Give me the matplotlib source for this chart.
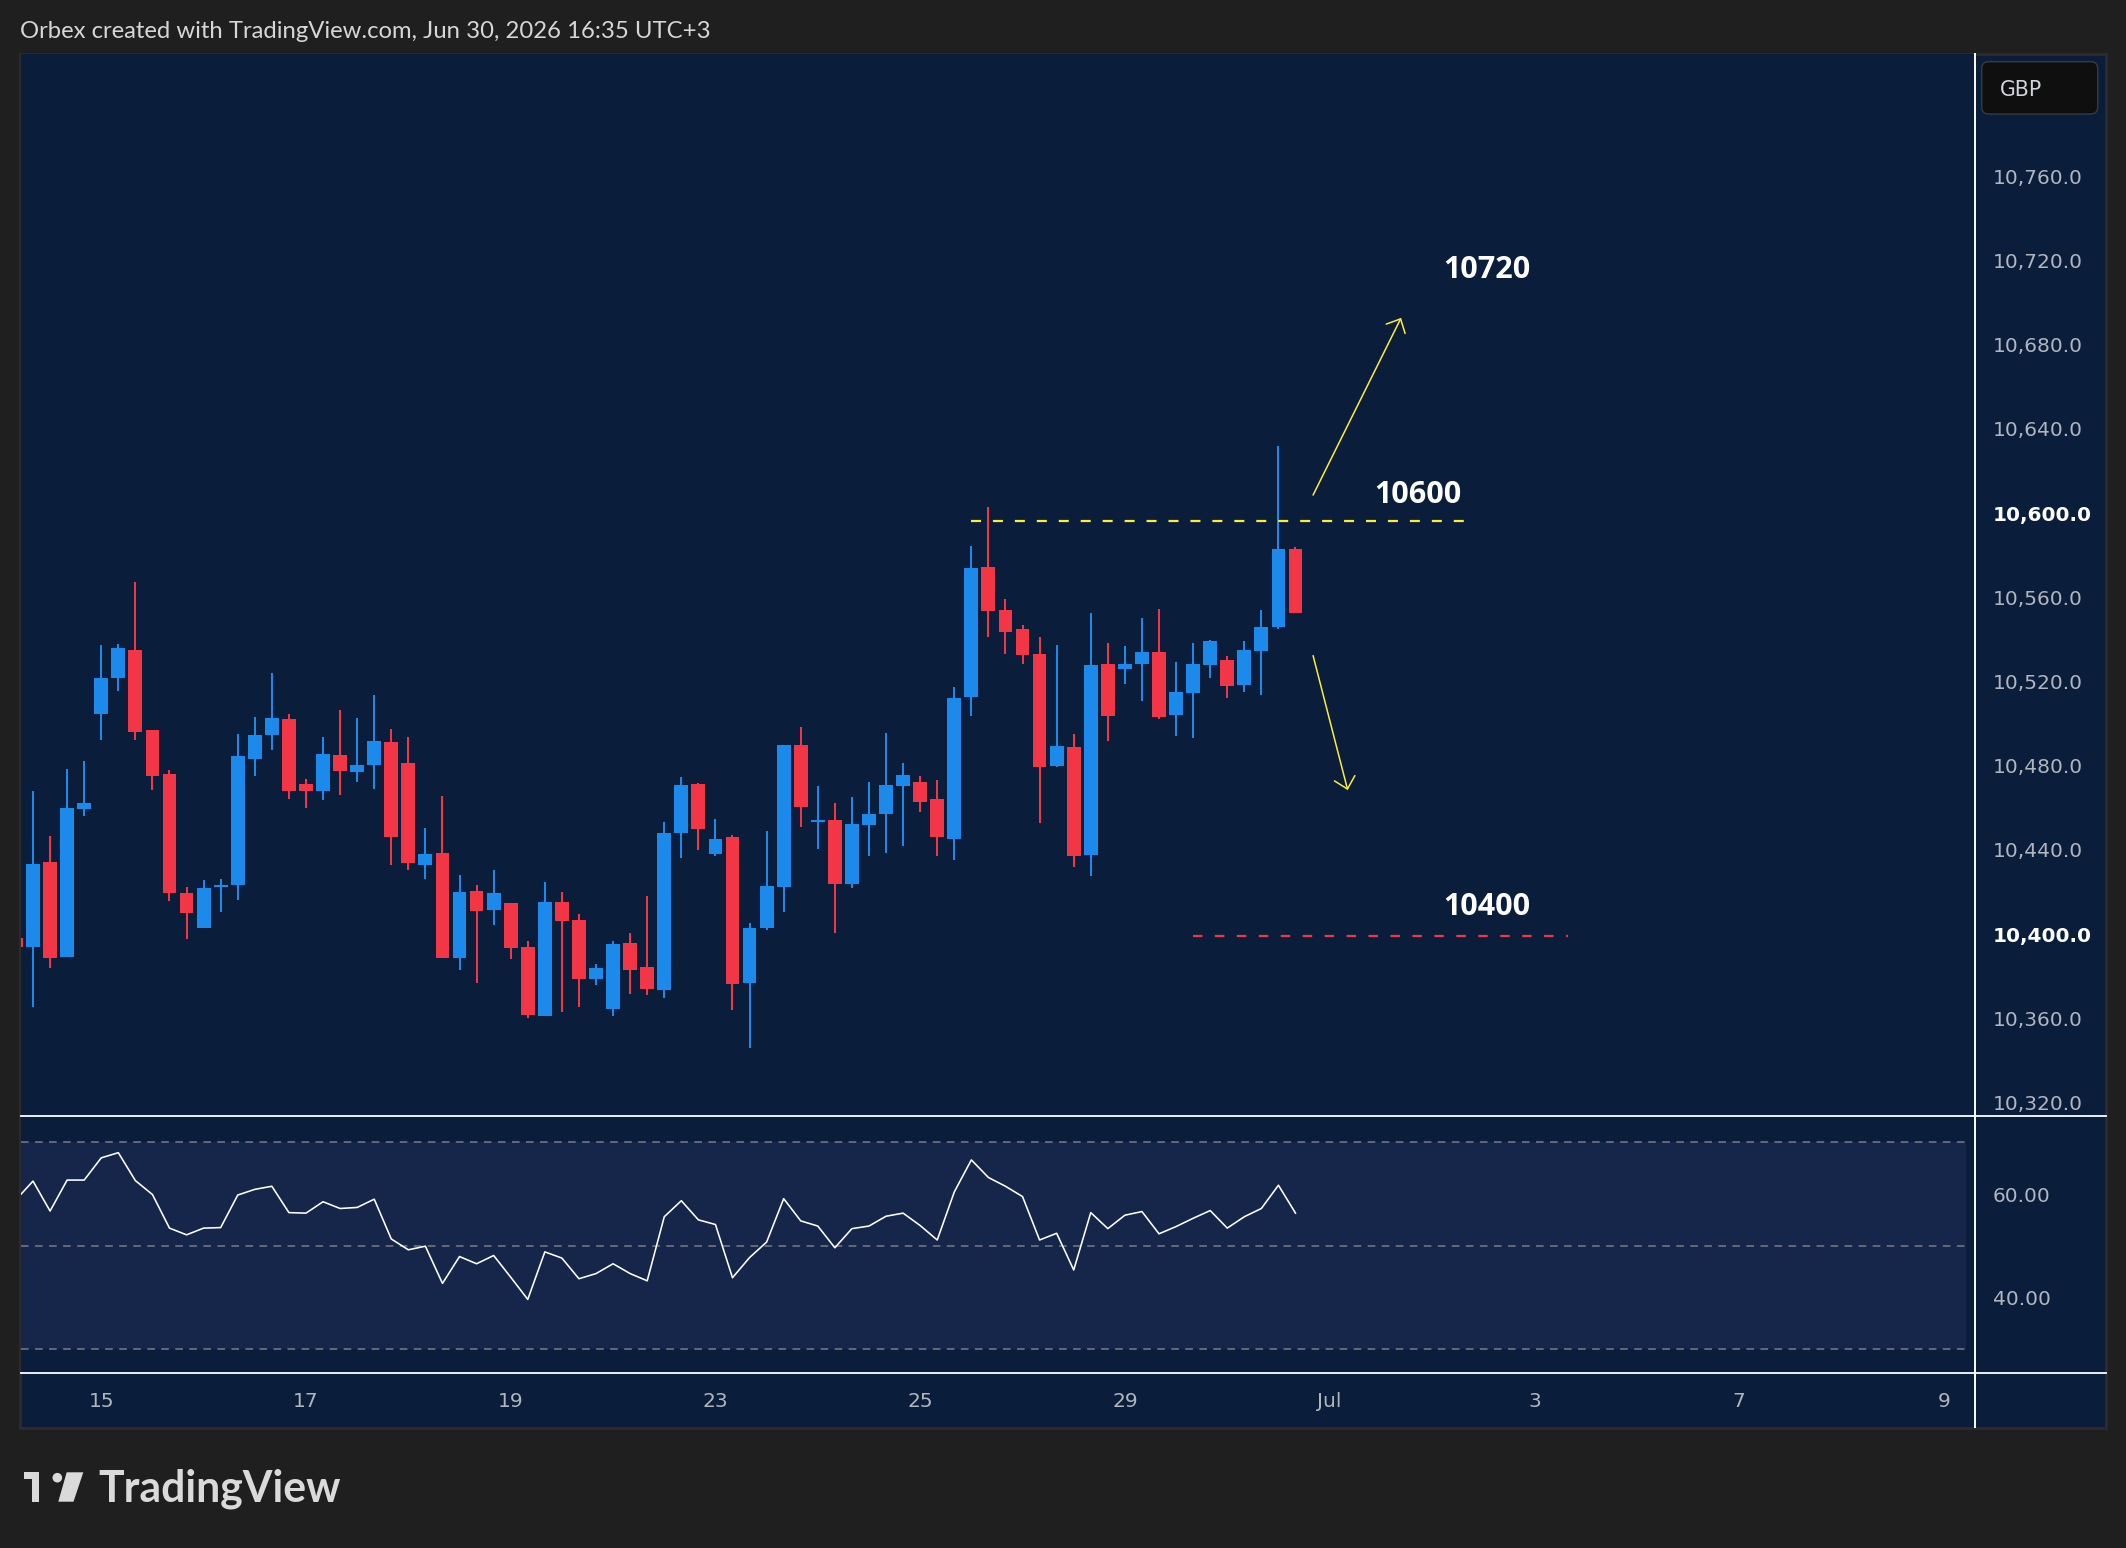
import numpy as np
import matplotlib
matplotlib.use('Agg')
import matplotlib.pyplot as plt
from matplotlib.patches import Rectangle, FancyBboxPatch, Circle, Polygon
from matplotlib.lines import Line2D


# 4h candles, index -1 is the one cut by the left edge
candle_idx = list(range(-1, 75))

opens = [10398.0,
         10394.0, 10434.2, 10389.2, 10459.6, 10504.7, 10521.8, 10535.0, 10497.0, 10476.1, 10419.5,
         10403.0, 10422.5, 10423.5, 10483.2, 10494.6, 10502.2, 10471.3, 10468.0, 10485.1, 10477.0,
         10480.3, 10491.3, 10481.3, 10432.8, 10438.5, 10388.8, 10420.5, 10411.6, 10414.8, 10393.8,
         10361.2, 10415.2, 10406.7, 10378.8, 10364.5, 10395.7, 10384.3, 10373.6, 10448.2, 10471.3,
         10438.1, 10446.1, 10376.8, 10402.9, 10422.3, 10489.9, 10453.4, 10454.2, 10423.8, 10451.8,
         10457.1, 10470.3, 10472.2, 10464.2, 10445.2, 10512.6, 10574.4, 10554.0, 10545.0, 10533.1,
         10479.8, 10488.8, 10437.6, 10528.4, 10526.0, 10528.4, 10534.0, 10504.1, 10514.6, 10527.9,
         10530.3, 10518.4, 10534.5, 10546.0, 10582.9]
highs = [10400.0,
         10468.0, 10446.6, 10478.4, 10482.2, 10537.4, 10537.8, 10567.3, 10497.0, 10478.0, 10422.4,
         10425.7, 10426.1, 10495.1, 10503.1, 10524.0, 10504.6, 10473.7, 10493.6, 10506.5, 10502.7,
         10513.6, 10497.4, 10493.6, 10450.4, 10465.6, 10428.1, 10423.3, 10430.4, 10414.8, 10396.7,
         10424.7, 10420.0, 10409.5, 10385.8, 10396.7, 10400.5, 10418.1, 10453.2, 10474.6, 10471.9,
         10454.7, 10447.1, 10405.3, 10448.9, 10489.9, 10498.3, 10470.3, 10462.4, 10465.1, 10472.2,
         10495.6, 10481.4, 10475.1, 10473.2, 10517.3, 10584.4, 10602.9, 10559.3, 10546.9, 10541.1,
         10537.4, 10495.1, 10552.6, 10538.4, 10536.9, 10550.3, 10554.5, 10529.2, 10538.4, 10539.7,
         10532.1, 10539.2, 10554.0, 10631.9, 10583.7]
lows = [10392.0,
        10365.5, 10384.0, 10389.2, 10456.1, 10492.2, 10515.5, 10492.2, 10468.6, 10415.7, 10397.6,
        10403.0, 10410.5, 10416.2, 10475.1, 10487.5, 10464.2, 10459.9, 10463.7, 10466.1, 10472.3,
        10468.9, 10432.8, 10430.4, 10426.2, 10388.8, 10382.9, 10376.7, 10404.3, 10388.2, 10360.3,
        10361.2, 10363.1, 10365.5, 10376.0, 10361.2, 10371.7, 10371.2, 10369.8, 10436.3, 10440.1,
        10437.1, 10363.9, 10346.0, 10401.9, 10410.4, 10450.8, 10440.5, 10400.6, 10422.0, 10437.1,
        10438.6, 10441.8, 10457.9, 10437.1, 10435.2, 10503.6, 10541.1, 10533.1, 10528.4, 10452.9,
        10479.3, 10431.8, 10427.6, 10491.7, 10518.9, 10510.7, 10502.2, 10494.1, 10493.2, 10521.8,
        10512.3, 10515.0, 10513.6, 10545.0, 10552.6]
closes = [10394.0,
          10433.3, 10388.8, 10459.9, 10462.3, 10521.7, 10535.9, 10496.2, 10475.3, 10419.7, 10410.2,
          10421.9, 10423.1, 10484.6, 10494.6, 10502.7, 10468.0, 10468.0, 10485.6, 10477.5, 10480.3,
          10491.7, 10446.1, 10433.8, 10438.0, 10388.8, 10420.0, 10411.1, 10419.5, 10393.5, 10361.7,
          10415.2, 10406.4, 10378.8, 10383.9, 10395.3, 10383.1, 10374.0, 10448.0, 10470.8, 10450.0,
          10445.2, 10376.3, 10402.9, 10422.8, 10489.9, 10460.3, 10454.2, 10423.8, 10452.3, 10457.1,
          10470.8, 10475.6, 10462.7, 10446.1, 10512.3, 10574.0, 10553.5, 10543.5, 10532.6, 10479.5,
          10489.3, 10437.1, 10527.9, 10503.6, 10528.4, 10534.0, 10503.1, 10515.0, 10528.4, 10539.2,
          10517.9, 10535.0, 10545.8, 10582.9, 10552.6]

rsi = [58.9,
       62.5, 56.7, 62.7, 62.7, 67.0, 68.0, 62.6, 59.9, 53.4, 52.1,
       53.4, 53.5, 59.8, 60.9, 61.5, 56.4, 56.3, 58.5, 57.2, 57.4,
       59.0, 51.3, 49.2, 49.9, 42.7, 47.9, 46.5, 48.1, 43.9, 39.6,
       48.8, 47.6, 43.6, 44.6, 46.5, 44.6, 43.2, 55.6, 58.7, 55.0,
       54.1, 43.8, 47.7, 50.7, 59.1, 54.8, 53.8, 49.6, 53.3, 53.8,
       55.7, 56.3, 53.9, 51.1, 60.4, 66.6, 63.2, 61.5, 59.5, 51.1,
       52.4, 45.3, 56.4, 53.3, 55.9, 56.6, 52.3, 53.7, 55.3, 56.8,
       53.4, 55.6, 57.2, 61.7, 56.3]

price_ticks = [10320, 10360, 10400, 10440, 10480, 10520, 10560, 10600, 10640, 10680, 10720, 10760]
rsi_ticks = [40, 60]
rsi_tick_labels = ['40.00', '60.00']
date_tick_idx = [4, 16, 28, 40, 52, 64, 76, 88, 100, 112]
date_tick_labels = ['15', '17', '19', '23', '25', '29', 'Jul', '3', '7', '9']

header = 'Orbex created with TradingView.com, Jun 30, 2026 16:35 UTC+3'
level_labels = ['10720', '10600', '10400']

W, H = 2126, 1548
NAVY = '#0a1e3b'
OUTER = '#1f1f1f'
UP = '#1c8aea'
DOWN = '#f23645'
YELLOW = '#ffeb3b'
AXIS_TXT = '#b2b5be'


def inch(x, y):
    # pixel position (from top-left) -> inches for dpi_scale_trans
    return x / 100, (H - y) / 100


def main():
    plt.rcParams['font.family'] = 'DejaVu Sans'
    plt.rcParams['lines.scale_dashes'] = False

    fig = plt.figure(figsize=(W / 100, H / 100), dpi=100, facecolor=OUTER)

    # navy frame behind everything
    fig.add_artist(Rectangle(inch(20, 1427.5), (2106 - 20) / 100, (1427.5 - 54) / 100,
                             transform=fig.dpi_scale_trans, facecolor=NAVY,
                             edgecolor='#2c2c2c', linewidth=2, zorder=-1))

    left, right = 20.5, 1974
    ax = fig.add_axes([left / W, 1 - 1115 / H, (right - left) / W, (1115 - 54) / H])
    ax_rsi = fig.add_axes([left / W, 1 - 1372 / H, (right - left) / W, (1372 - 1116) / H], sharex=ax)

    for a in (ax, ax_rsi):
        a.set_facecolor(NAVY)
        for s in a.spines.values():
            s.set_visible(False)
        a.yaxis.tick_right()
        a.tick_params(axis='both', length=0, labelcolor=AXIS_TXT, labelsize=14.5)
        a.tick_params(axis='y', pad=13.5)

    x = np.array(candle_idx)
    o = np.array(opens)
    c = np.array(closes)
    colors = [UP if cc >= oo else DOWN for oo, cc in zip(o, c)]

    ax.vlines(x, lows, highs, colors=colors, linewidth=1.45, zorder=2)
    ax.bar(x, np.maximum(np.abs(c - o), 0.8), bottom=np.minimum(o, c),
           width=0.81, color=colors, linewidth=0, zorder=3)

    ax.set_xlim(-0.733, 113.77)
    ax.set_ylim(10314.0, 10818.2)
    ax.set_yticks(price_ticks)
    ax.set_yticklabels([f'{t:,.1f}' for t in price_ticks])
    for lbl, t in zip(ax.get_yticklabels(), price_ticks):
        if t in (10600, 10400):
            lbl.set_color('white')
            lbl.set_fontweight('bold')
    ax.tick_params(axis='x', labelbottom=False)

    # drawings
    ax.hlines(10596.5, 55.0, 84.0, colors=YELLOW, linewidth=1.6, linestyles=(0, (7.2, 8.6)), zorder=4)
    ax.hlines(10399.0, 68.0, 90.0, colors=DOWN, linewidth=1.6, linestyles=(0, (6.8, 9.0)), zorder=4)

    arrow = dict(arrowstyle='->,head_length=0.4,head_width=0.38', color=YELLOW, lw=1.1,
                 shrinkA=0, shrinkB=0, mutation_scale=20)
    ax.annotate('', xy=(80.19, 10692.8), xytext=(75.03, 10608.6), arrowprops=arrow, zorder=5)
    ax.annotate('', xy=(77.06, 10468.4), xytext=(75.03, 10532.3), arrowprops=arrow, zorder=5)

    for txt, px, py in zip(level_labels, [85.2, 81.2, 85.2], [10717.0, 10610.5, 10414.6]):
        ax.text(px, py, txt, ha='center', va='center_baseline', color='white',
                fontsize=22, fontweight='bold', family='Open Sans', zorder=6)

    # RSI pane
    ax_rsi.axhspan(30, 70, xmax=0.9959, color='#16264a', linewidth=0, zorder=0)
    for lvl in (30, 50, 70):
        ax_rsi.axhline(lvl, xmax=0.9959, color='#787b86', linewidth=1.1,
                       linestyle=(0, (5.5, 4.6)), zorder=1)
    ax_rsi.plot(x, rsi, color='white', linewidth=1.15, zorder=3)
    ax_rsi.set_ylim(25.55, 75.1)
    ax_rsi.set_yticks(rsi_ticks)
    ax_rsi.set_yticklabels(rsi_tick_labels)
    ax_rsi.set_xticks(date_tick_idx)
    ax_rsi.set_xticklabels(date_tick_labels)
    ax_rsi.tick_params(axis='x', pad=14.5)

    # separators
    for yy in (1115.5, 1372.5):
        fig.add_artist(Line2D([20.5 / W, 2106 / W], [1 - yy / H, 1 - yy / H],
                              transform=fig.transFigure, color='white', linewidth=1.3, zorder=5))
    fig.add_artist(Line2D([1974.5 / W, 1974.5 / W], [1 - 54 / H, 1 - 1427 / H],
                          transform=fig.transFigure, color='white', linewidth=1.4, zorder=5))

    # currency box
    fig.add_artist(FancyBboxPatch(inch(1981.7, 114), 1.16, 0.523,
                                  boxstyle='round,pad=0,rounding_size=0.07',
                                  transform=fig.dpi_scale_trans, facecolor='#0f0f0f',
                                  edgecolor='#3a3a3a', linewidth=1, zorder=6))
    fig.text(2000 / W, 1 - 88 / H, 'GBP', ha='left', va='center_baseline',
             color='#d1d4dc', fontsize=14.8, zorder=7)

    fig.text(20 / W, 1 - 38.3 / H, header, ha='left', va='baseline',
             color='#d6d6d6', fontsize=17.2, family='Lato')

    # TradingView logo
    logo = '#dadada'
    fig.add_artist(Rectangle(inch(24, 1479.3), 0.153, 0.07, transform=fig.dpi_scale_trans,
                             facecolor=logo, linewidth=0))
    fig.add_artist(Rectangle(inch(32.3, 1501.7), 0.07, 0.294, transform=fig.dpi_scale_trans,
                             facecolor=logo, linewidth=0))
    fig.add_artist(Circle(inch(57.3, 1477.7), 0.048, transform=fig.dpi_scale_trans,
                          facecolor=logo, linewidth=0))
    fig.add_artist(Polygon([inch(66.7, 1472.3), inch(83.3, 1472.3), inch(73.5, 1501.7), inch(58.3, 1501.7)],
                           closed=True, transform=fig.dpi_scale_trans, facecolor=logo, linewidth=0))
    fig.text(98.3 / W, 1 - 1501.7 / H, 'TradingView', ha='left', va='baseline',
             color=logo, fontsize=30.8, fontweight='bold', family='Lato')

    fig.savefig('out.png', dpi=100, facecolor=fig.get_facecolor())


if __name__ == "__main__":
    main()
